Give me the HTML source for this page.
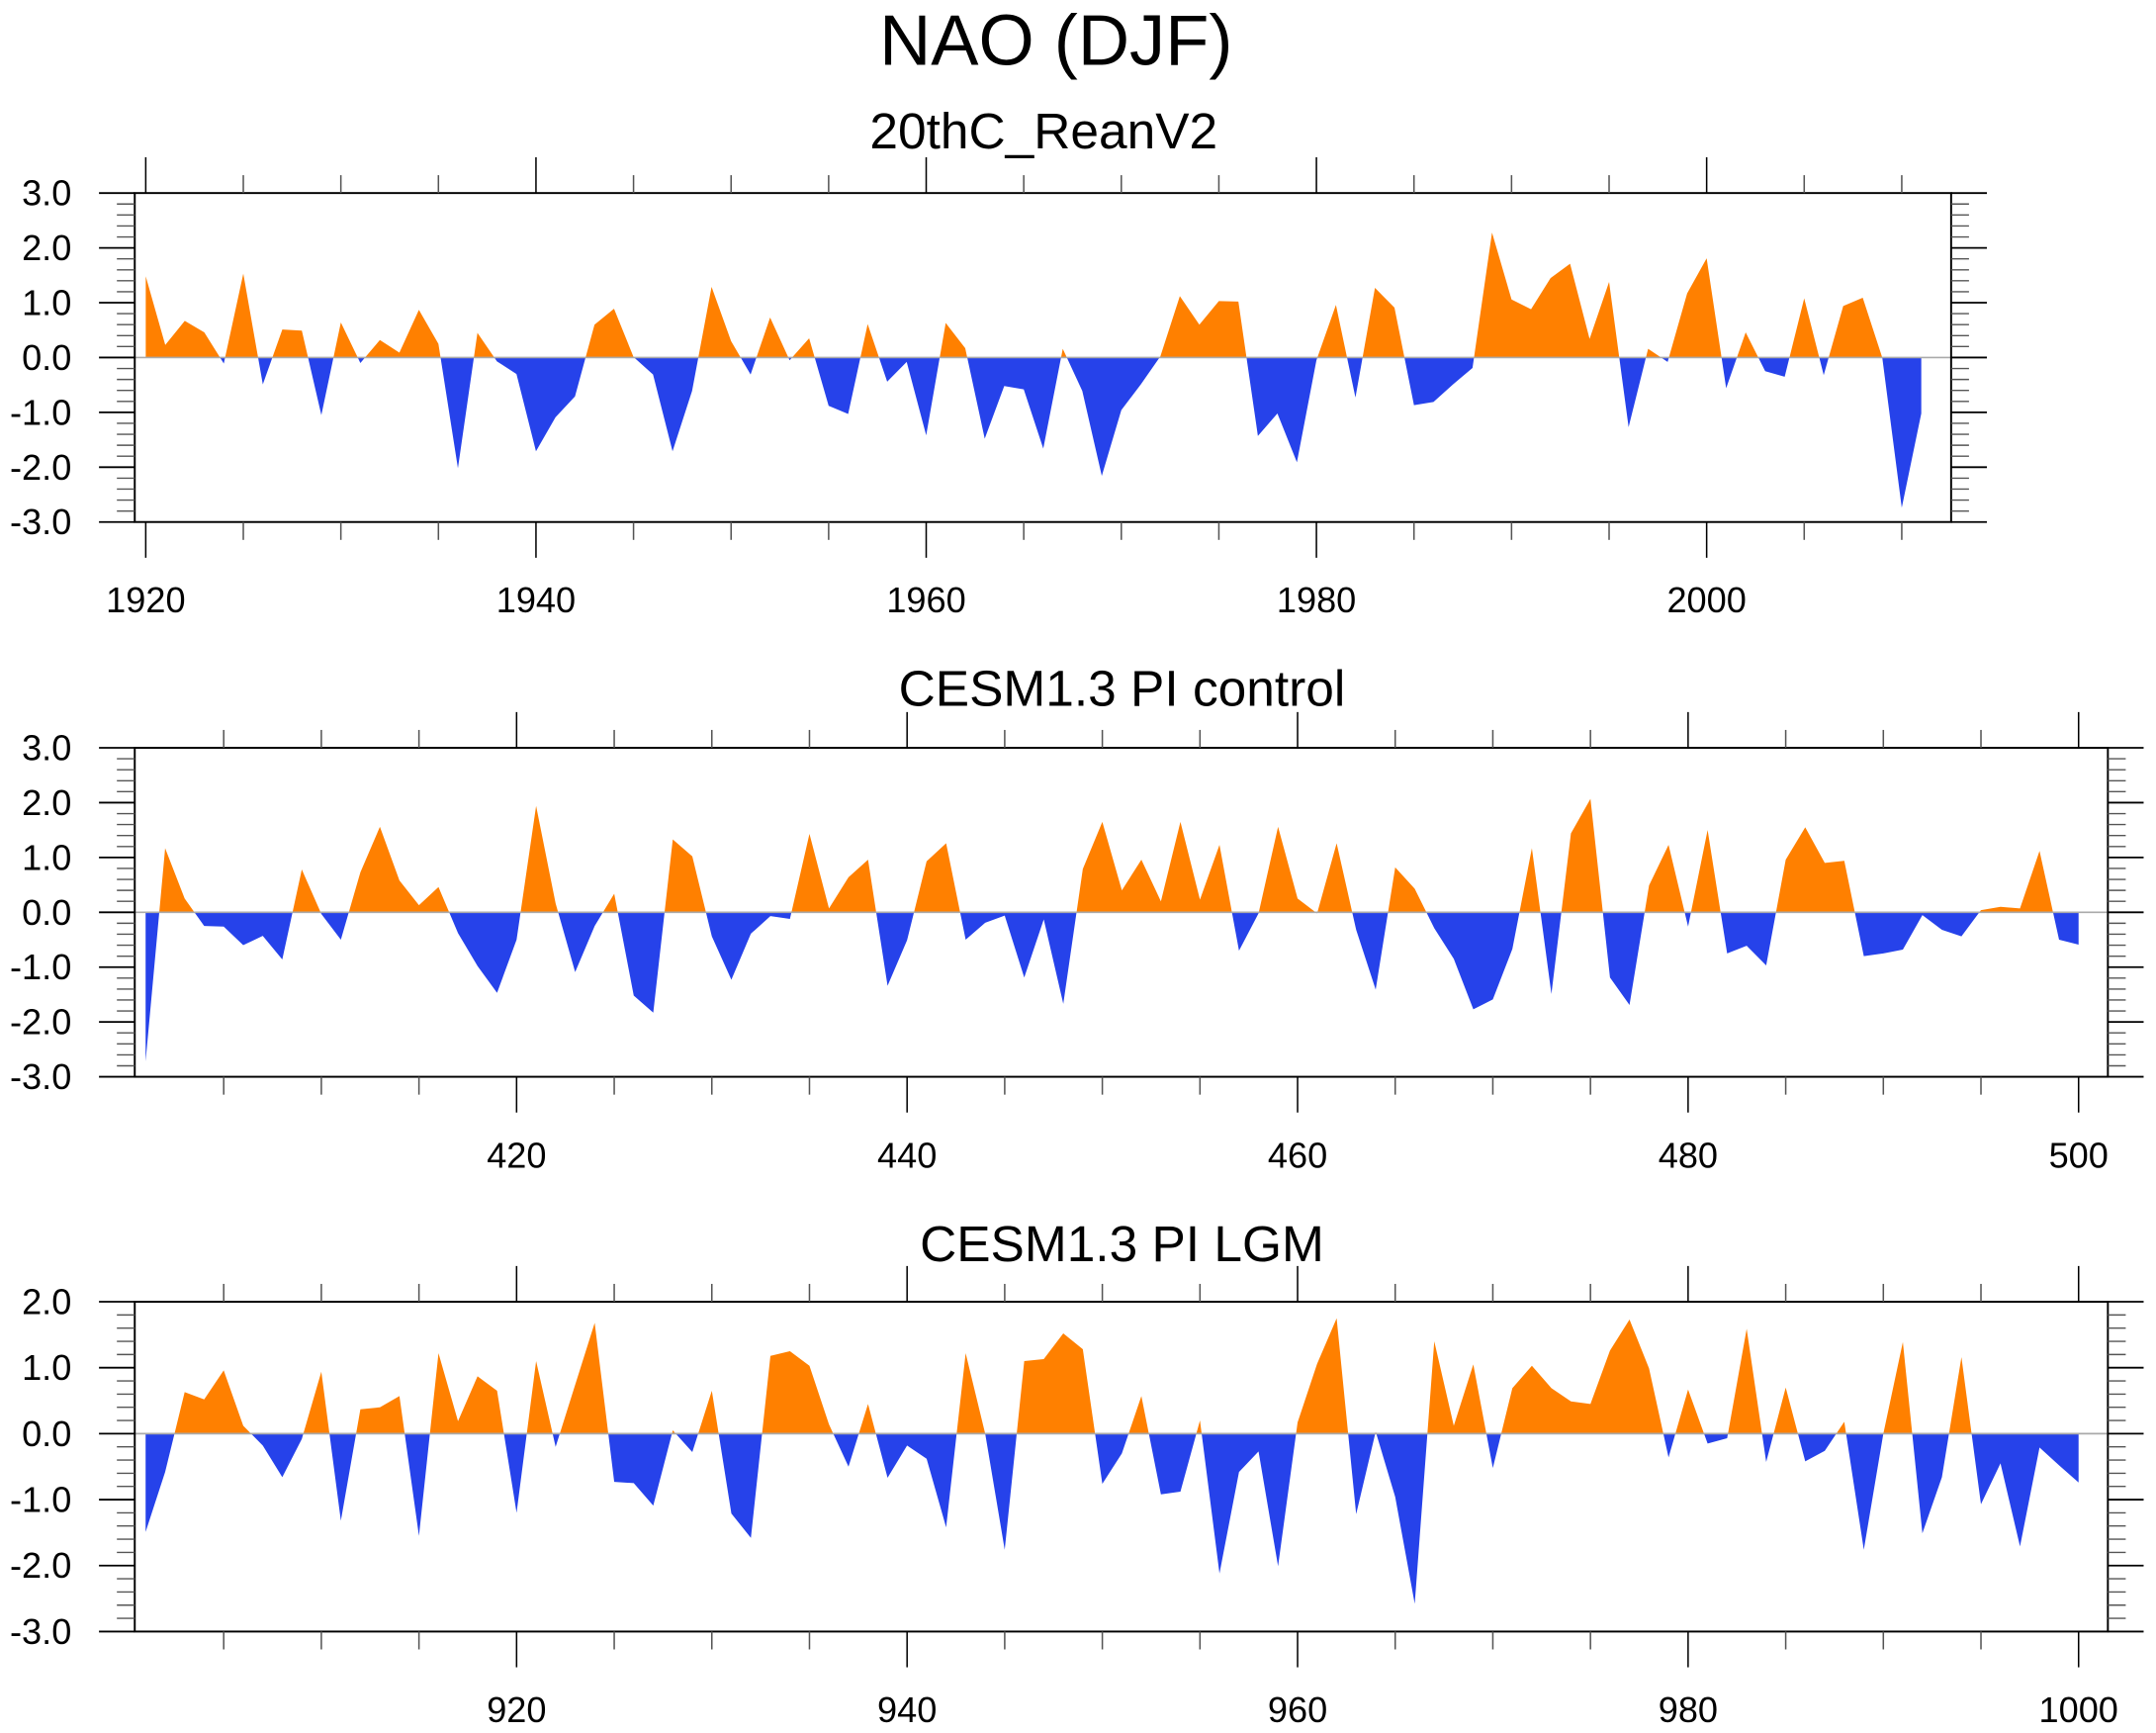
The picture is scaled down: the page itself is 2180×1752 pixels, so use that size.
<!DOCTYPE html>
<html><head><meta charset="utf-8"><title>NAO (DJF)</title>
<style>html,body{margin:0;padding:0;background:#fff;}svg{display:block;font-family:"Liberation Sans",Arial,sans-serif;}</style>
</head><body>
<svg id="chart" xmlns="http://www.w3.org/2000/svg" width="2180" height="1752" viewBox="0 0 1568 1260">
<rect width="1568" height="1260" fill="#fff"/>
<text x="768" y="47" font-size="52" text-anchor="middle">NAO (DJF)</text>
</svg>
<script>
const reanStart = 1920;
const reanValues = [1.48,0.23,0.67,0.46,-0.11,1.53,-0.49,0.51,0.49,-1.05,0.64,-0.1,0.32,0.09,0.87,0.25,-2.02,0.45,-0.07,-0.3,
-1.71,-1.09,-0.71,0.6,0.89,0.01,-0.31,-1.71,-0.61,1.29,0.3,-0.31,0.73,-0.05,0.35,-0.88,-1.03,0.61,-0.44,-0.08,
-1.42,0.63,0.17,-1.48,-0.52,-0.58,-1.66,0.16,-0.61,-2.16,-0.96,-0.49,0.02,1.12,0.6,1.03,1.02,-1.43,-1.02,-1.91,
-0.05,0.96,-0.73,1.27,0.91,-0.87,-0.81,-0.49,-0.19,2.28,1.06,0.88,1.45,1.71,0.34,1.38,-1.27,0.16,-0.08,1.17,
1.81,-0.56,0.46,-0.25,-0.35,1.08,-0.32,0.94,1.09,0.0,-2.74,-1.02];
const ctrlStart = 401;
const ctrlValues = [-2.72,1.17,0.25,-0.25,-0.26,-0.6,-0.43,-0.86,0.78,-0.03,-0.5,0.73,1.56,0.58,0.13,0.46,-0.38,-0.98,-1.47,-0.5,
1.94,0.16,-1.09,-0.25,0.34,-1.52,-1.83,1.33,1.02,-0.44,-1.23,-0.39,-0.07,-0.12,1.43,0.07,0.64,0.96,-1.34,-0.51,
0.93,1.26,-0.5,-0.19,-0.06,-1.19,-0.13,-1.67,0.79,1.65,0.4,0.96,0.2,1.65,0.23,1.23,-0.7,-0.02,1.56,0.25,
-0.02,1.26,-0.32,-1.41,0.82,0.43,-0.29,-0.85,-1.77,-1.59,-0.67,1.17,-1.49,1.44,2.07,-1.19,-1.69,0.49,1.23,-0.26,
1.5,-0.75,-0.61,-0.97,0.96,1.55,0.9,0.94,-0.8,-0.75,-0.68,-0.05,-0.32,-0.44,0.04,0.1,0.07,1.12,-0.5,-0.59];
const lgmStart = 901;
const lgmValues = [-1.49,-0.58,0.63,0.52,0.96,0.12,-0.18,-0.66,-0.08,0.94,-1.32,0.37,0.4,0.57,-1.55,1.22,0.19,0.87,0.65,-1.2,
1.1,-0.2,0.74,1.68,-0.73,-0.75,-1.09,0.05,-0.28,0.65,-1.21,-1.58,1.18,1.25,1.03,0.14,-0.5,0.45,-0.67,-0.18,
-0.38,-1.42,1.22,0.0,-1.76,1.1,1.13,1.52,1.28,-0.76,-0.3,0.57,-0.92,-0.88,0.2,-2.12,-0.58,-0.27,-2.01,0.17,
1.06,1.75,-1.22,0.03,-0.96,-2.58,1.4,0.12,1.05,-0.52,0.69,1.03,0.69,0.49,0.45,1.26,1.73,0.99,-0.36,0.67,
-0.15,-0.07,1.59,-0.43,0.7,-0.42,-0.26,0.18,-1.76,0.0,1.39,-1.51,-0.66,1.16,-1.07,-0.45,-1.71,-0.21,-0.48,-0.74];
const reanXTicks = [1920,1940,1960,1980,2000];
const ctrlXTicks = [420,440,460,480,500];
const lgmXTicks = [920,940,960,980,1000];
const yTicks6 = [3,2,1,0,-1,-2,-3];
const yTicks5 = [2,1,0,-1,-2,-3];

const NS = 'http://www.w3.org/2000/svg';
const svg = document.getElementById('chart');
function mk(tag, attrs, parent){const e=document.createElementNS(NS,tag);for(const k in attrs)e.setAttribute(k,attrs[k]);(parent||svg).appendChild(e);return e;}

function drawPanel(p, idx){
  const g = mk('g',{});
  
  
  const xs = yr => p.refX + (yr - p.refYear) * p.ppy;
  const ys = v => p.yTop + (p.ymax - v) / (p.ymax - p.ymin) * (p.yBot - p.yTop);
  const z = ys(0);
  const t = mk('text',{x:p.titleX,y:p.titleY,'font-size':37,'text-anchor':'middle'},g);
  t.textContent = p.title;
  
  
  const n = p.values.length;
  let d = 'M' + xs(p.start) + ',' + z;
  for(let i=0;i<n;i++) d += ' L' + xs(p.start+i).toFixed(2) + ',' + ys(p.values[i]).toFixed(2);
  d += ' L' + xs(p.start+n-1) + ',' + z + ' Z';
  const defs = mk('defs',{},g);
  const cpA = mk('clipPath',{id:'ca'+idx},defs); mk('rect',{x:0,y:0,width:1568,height:z},cpA);
  const cpB = mk('clipPath',{id:'cb'+idx},defs); mk('rect',{x:0,y:z,width:1568,height:1260},cpB);
  const pos = mk('path',{d:d,fill:'#ff8000','clip-path':'url(#ca'+idx+')'},g);
  
  
  const neg = mk('path',{d:d,fill:'#2642ea','clip-path':'url(#cb'+idx+')'},g);
  
  
  const zl = mk('line',{x1:p.left,x2:p.right,y1:z,y2:z,stroke:'#aaa','stroke-width':1.2},g);
  
  
  const box = mk('rect',{x:p.left,y:p.yTop,width:p.right-p.left,height:p.yBot-p.yTop,fill:'none',stroke:'#000','stroke-width':1.4},g);
  
  
  const yt = p.yticks;
  for(let v=p.ymin; v<=p.ymax+1e-6; v+=0.2){
    const vv = Math.round(v*10)/10;
    const major = Math.abs(vv - Math.round(vv))<1e-6;
    const L = major?26:13, y=ys(vv);
    mk('line',{x1:p.left-L,x2:p.left,y1:y,y2:y,stroke:major?'#000':'#555','stroke-width':major?1.3:1},g);
    mk('line',{x1:p.right,x2:p.right+L,y1:y,y2:y,stroke:major?'#000':'#555','stroke-width':major?1.3:1},g);
  }
  for(const v of yt){
    const lab = mk('text',{x:52,y:ys(v)+9,'font-size':26,'text-anchor':'end'},g);
    lab.textContent = v.toFixed(1);
    
    
  }
  const first = Math.ceil(p.start/5)*5;
  for(let yr=first; xs(yr)<=p.right+0.5; yr+=5){
    const x = xs(yr); if(x < p.left-0.5) continue;
    const major = p.xticks.includes(yr);
    const L = major?26:13;
    mk('line',{x1:x,x2:x,y1:p.yTop-L,y2:p.yTop,stroke:major?'#000':'#555','stroke-width':1.1},g);
    mk('line',{x1:x,x2:x,y1:p.yBot,y2:p.yBot+L,stroke:major?'#000':'#555','stroke-width':1.1},g);
  }
  for(const yr of p.xticks){
    const lab = mk('text',{x:xs(yr),y:p.labY,'font-size':26,'text-anchor':'middle'},g);
    lab.textContent = String(yr);
    
    
  }
}

drawPanel({name:'panel-20thc-reanv2',title:'20thC_ReanV2',titleX:759,titleY:108,values:reanValues,start:reanStart,
  refYear:1920,refX:106,ppy:14.19,left:98,right:1419,yTop:140.3,yBot:379.5,ymax:3,ymin:-3,yticks:yTicks6,xticks:reanXTicks,labY:445},0);
drawPanel({name:'panel-pi-control',title:'CESM1.3 PI control',titleX:816,titleY:513,values:ctrlValues,start:ctrlStart,
  refYear:420,refX:375.7,ppy:14.2,left:98,right:1533,yTop:543.7,yBot:782.9,ymax:3,ymin:-3,yticks:yTicks6,xticks:ctrlXTicks,labY:849},1);
drawPanel({name:'panel-pi-lgm',title:'CESM1.3 PI LGM',titleX:816,titleY:917,values:lgmValues,start:lgmStart,
  refYear:920,refX:375.7,ppy:14.2,left:98,right:1533,yTop:946.5,yBot:1186.3,ymax:2,ymin:-3,yticks:yTicks5,xticks:lgmXTicks,labY:1252},2);
</script>
</body></html>
